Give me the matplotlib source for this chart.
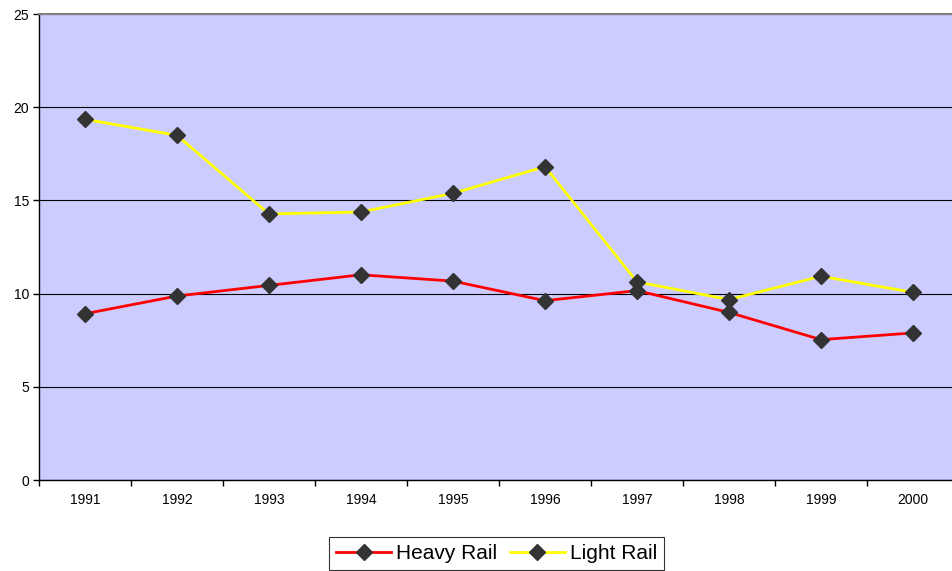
import matplotlib
matplotlib.use("Agg")
import matplotlib.pyplot as plt
import numpy as np

plt.rcParams['font.family'] = ['Liberation Sans', 'DejaVu Sans']

years = ['1991', '1992', '1993', '1994', '1995', '1996', '1997', '1998', '1999', '2000']
heavy_rail = [8.92, 9.87, 10.44, 11.01, 10.67, 9.62, 10.16, 8.99, 7.53, 7.89]
light_rail = [19.35, 18.49, 14.27, 14.38, 15.38, 16.81, 10.63, 9.68, 10.93, 10.07]
y_ticks = [0, 5, 10, 15, 20, 25]

W, H = 952, 571
fig = plt.figure(figsize=(W / 100, H / 100), dpi=100)
ax = fig.add_axes([39 / W, (H - 480) / H, 920 / W, 466 / H])
ax.set_facecolor('#CCCCFF')

x = np.arange(len(years))
ax.plot(x, heavy_rail, color='#FF0000', lw=2, marker='D', ms=8.5,
        mfc='#333333', mec='#333333', label='Heavy Rail', zorder=3)
ax.plot(x, light_rail, color='#FFFF00', lw=2, marker='D', ms=8.5,
        mfc='#333333', mec='#333333', label='Light Rail', zorder=3)

ax.set_xlim(-0.5, len(years) - 0.5)
ax.set_ylim(0, 25)
ax.set_yticks(y_ticks)
ax.set_yticklabels([str(v) for v in y_ticks], fontsize=10)
ax.yaxis.grid(True, color='#000000', lw=0.8)
ax.set_axisbelow(True)

ax.set_xticks(x)
ax.set_xticklabels(years, fontsize=10)
ax.set_xticks(np.arange(len(years) + 1) - 0.5, minor=True)
ax.tick_params(axis='x', which='major', length=0, pad=9)
ax.tick_params(axis='x', which='minor', length=4, width=1, direction='out')
ax.tick_params(axis='y', length=4, width=1, direction='out', pad=3)

for s in ['left', 'bottom']:
    ax.spines[s].set_color('#000000')
    ax.spines[s].set_linewidth(1)
ax.spines['top'].set_color('#808080')
ax.spines['top'].set_linewidth(1.5)
ax.spines['right'].set_visible(False)

leg = fig.legend(loc='upper left', bbox_to_anchor=(329 / W, 1 - 537 / H), ncol=2,
                 fontsize=15, frameon=True, fancybox=False, edgecolor='#000000',
                 handlelength=2.64, handletextpad=0.24, columnspacing=0.6,
                 borderpad=0.34, borderaxespad=0)
leg.get_frame().set_linewidth(0.8)

fig.savefig('out.png', dpi=100)
